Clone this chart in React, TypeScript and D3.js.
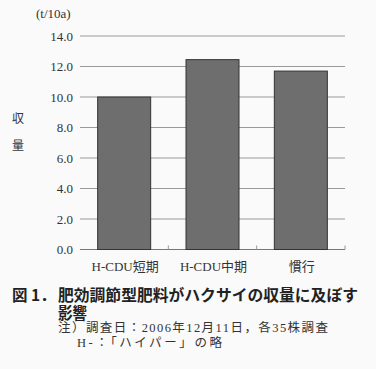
import React from "react";
import * as d3 from "d3";

const categories = ["H-CDU短期", "H-CDU中期", "慣行"];
const values = [10.0, 12.45, 11.7];
const yTicks = [0, 2, 4, 6, 8, 10, 12, 14];

const W = 376;
const H = 369;
const left = 80;
const right = 345;
const top = 36;
const bottom = 249.5;

const serif = "'Liberation Serif', 'DejaVu Serif', 'Noto Sans CJK JP', serif";
const gothic = "'Noto Sans CJK JP', 'Noto Sans', sans-serif";

export default function App() {
  const x = d3.scaleBand<string>().domain(categories).range([left, right]).paddingInner(0.4).paddingOuter(0.2);
  const xOuter = d3.scaleBand<string>().domain(categories).range([left, right]);
  const y = d3.scaleLinear().domain([0, 14]).range([bottom, top]);
  const sTxt = { fontFamily: serif };
  const gTxt = { fontFamily: gothic };
  return (
    <svg width={W} height={H} style={{ position: "absolute", left: 0, top: 0, background: "#fafafa" }}>
      <rect x={0} y={0} width={W} height={H} fill="#fafafa" />
      {yTicks.map((t) => (
        <g key={t}>
          {t > 0 && <line x1={left} x2={right} y1={y(t)} y2={y(t)} stroke="#9a9a9a" strokeWidth={1} />}
          <text x={73} y={y(t) + 4.5} textAnchor="end" style={sTxt} fontSize={13} fill="#333">
            {t.toFixed(1)}
          </text>
        </g>
      ))}
      <line x1={left} x2={right} y1={bottom} y2={bottom} stroke="#777" strokeWidth={1} />
      {categories.map((c) => (
        <line key={c} x1={xOuter(c)! + xOuter.bandwidth()} x2={xOuter(c)! + xOuter.bandwidth()} y1={bottom} y2={bottom - 4} stroke="#999" strokeWidth={1} />
      ))}
      {categories.map((c, i) => (
        <rect key={c} x={x(c)} y={y(values[i])} width={x.bandwidth()} height={bottom - y(values[i])} fill="#6e6e6e" stroke="#333" strokeWidth={1} />
      ))}
      {categories.map((c) => (
        <text key={c} x={xOuter(c)! + xOuter.bandwidth() / 2 + 1} y={271} textAnchor="middle" style={sTxt} fontSize={13} fill="#333">
          {c}
        </text>
      ))}
      <text x={36} y={18} style={sTxt} fontSize={13} fill="#333">(t/10a)</text>
      <text x={18} y={123} textAnchor="middle" style={sTxt} fontSize={12} fill="#333">収</text>
      <text x={18} y={150} textAnchor="middle" style={sTxt} fontSize={12} fill="#333">量</text>
      <text x={12} y={301} style={gTxt} fontWeight="bold" fontSize={15.5} fill="#222">図 1．</text>
      <text x={58} y={301} style={gTxt} fontWeight="bold" fontSize={15.5} fill="#222" textLength={300} lengthAdjust="spacingAndGlyphs">
        肥効調節型肥料がハクサイの収量に及ぼす
      </text>
      <text x={58} y={319} style={gTxt} fontWeight="bold" fontSize={15.5} fill="#222" textLength={29} lengthAdjust="spacingAndGlyphs">影響</text>
      <text x={58} y={332} style={sTxt} fontSize={12.5} fill="#333" textLength={270} lengthAdjust="spacing">注）調査日：2006年12月11日，各35株調査</text>
      <text x={77} y={347} style={sTxt} fontSize={12.5} fill="#333" textLength={145} lengthAdjust="spacing">H-：「ハイパー」の略</text>
    </svg>
  );
}
